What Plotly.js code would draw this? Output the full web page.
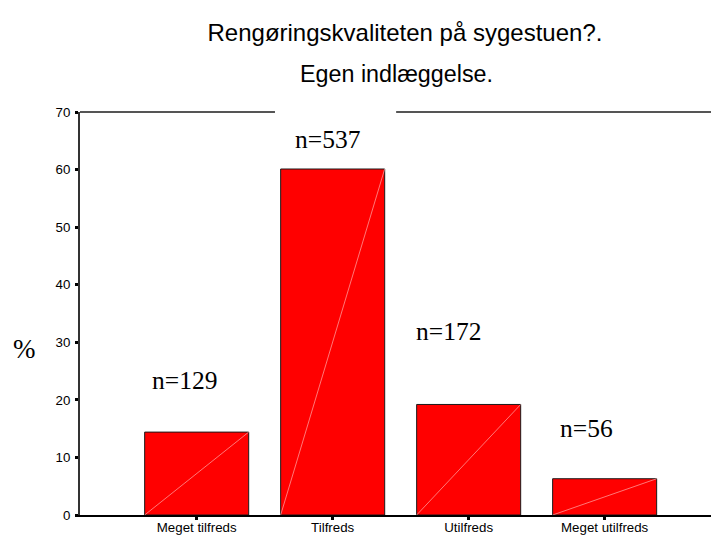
<!DOCTYPE html>
<html>
<head>
<meta charset="utf-8">
<script src="https://cdn.plot.ly/plotly-3.0.1.min.js"></script>
<style>html,body{margin:0;padding:0;background:#fff;}#chart{width:711px;height:536px;}</style>
</head>
<body>
<div id="chart"></div>
<script>
// ---- data ----
const categories = ["Meget tilfreds", "Tilfreds", "Utilfreds", "Meget utilfreds"];
const percents = [14.4, 60.1, 19.2, 6.3];
const counts = [129, 537, 172, 56];
const yTicks = [0, 10, 20, 30, 40, 50, 60, 70];
const titleLine1 = "Rengøringskvaliteten på sygestuen?.";
const titleLine2 = "Egen indlæggelse.";
const yLabel = "%";

const SANS = "Liberation Sans, Arial, sans-serif";
const SERIF = "Liberation Serif, Times New Roman, serif";
const barWidth = 0.765;
const xRange = [-0.858, 3.782];

// bars
const bars = {
  type: "bar",
  x: categories,
  y: percents,
  width: barWidth,
  marker: {color: "#ff0000", line: {color: "#1a1a1a", width: 1}},
  hoverinfo: "x+y",
  xaxis: "x", yaxis: "y"
};

// faint diagonal artifact inside each bar (bottom-left to top-right), derived from bar data
const dx = [], dy = [];
percents.forEach((v, i) => {
  dx.push(i - barWidth / 2, i + barWidth / 2, null);
  dy.push(0, v, null);
});
const diag = {
  type: "scatter", mode: "lines",
  x: dx, y: dy,
  line: {color: "rgba(255,190,190,0.9)", width: 0.7},
  hoverinfo: "skip",
  xaxis: "x2", yaxis: "y"
};

// label placements (layout positions, in x2 index units and y percent units)
const labelX = [-0.093, 0.965, 1.855, 2.863];
const labelY = [23.4, 65.3, 31.8, 15.1];
const nAnnotations = counts.map((c, i) => ({
  xref: "x2", yref: "y",
  x: labelX[i], y: labelY[i],
  text: "n=" + c,
  showarrow: false,
  xanchor: "center", yanchor: "middle",
  font: {family: SERIF, size: 25.5, color: "#000"}
}));

const layout = {
  width: 711, height: 536,
  margin: {l: 80, r: 0, t: 112, b: 21, pad: 0},
  paper_bgcolor: "#fff", plot_bgcolor: "#fff",
  showlegend: false,
  title: {
    text: titleLine1,
    font: {family: SANS, size: 24, color: "#000"},
    xref: "paper", x: 0.515, xanchor: "center",
    yref: "container", y: 1 - 33 / 536, yanchor: "middle"
  },
  xaxis: {
    type: "category",
    range: xRange,
    showline: true, linecolor: "#000", linewidth: 1.5,
    ticks: "outside", ticklen: 3, tickwidth: 3, tickcolor: "#000",
    ticklabelstandoff: -3,
    showgrid: false, zeroline: false,
    tickfont: {family: SANS, size: 13.3, color: "#000"},
    fixedrange: true
  },
  xaxis2: {
    overlaying: "x", range: xRange, visible: false, fixedrange: true
  },
  yaxis: {
    range: [0, 70],
    tickvals: yTicks,
    showline: true, linecolor: "#333", linewidth: 2,
    ticks: "outside", ticklen: 3, tickwidth: 3, tickcolor: "#000",
    ticklabelstandoff: 2,
    showgrid: false, zeroline: false,
    tickfont: {family: SANS, size: 13.3, color: "#000"},
    fixedrange: true
  },
  shapes: [
    {type: "line", xref: "paper", yref: "paper", x0: 0, x1: 0.309, y0: 1, y1: 1,
     line: {color: "#555", width: 2}},
    {type: "line", xref: "paper", yref: "paper", x0: 0.501, x1: 1, y0: 1, y1: 1,
     line: {color: "#555", width: 2}}
  ],
  annotations: [
    {xref: "paper", yref: "paper", x: 0.502, y: (515 - 74) / 403,
     text: titleLine2, showarrow: false, xanchor: "center", yanchor: "middle",
     font: {family: SANS, size: 23.3, color: "#000"}},
    {xref: "paper", yref: "paper", x: -0.0887, y: 0.412,
     text: yLabel, showarrow: false, xanchor: "center", yanchor: "middle",
     font: {family: SERIF, size: 27, color: "#000"}}
  ].concat(nAnnotations)
};

Plotly.newPlot("chart", [bars, diag], layout, {displayModeBar: false, staticPlot: true});
</script>
</body>
</html>
